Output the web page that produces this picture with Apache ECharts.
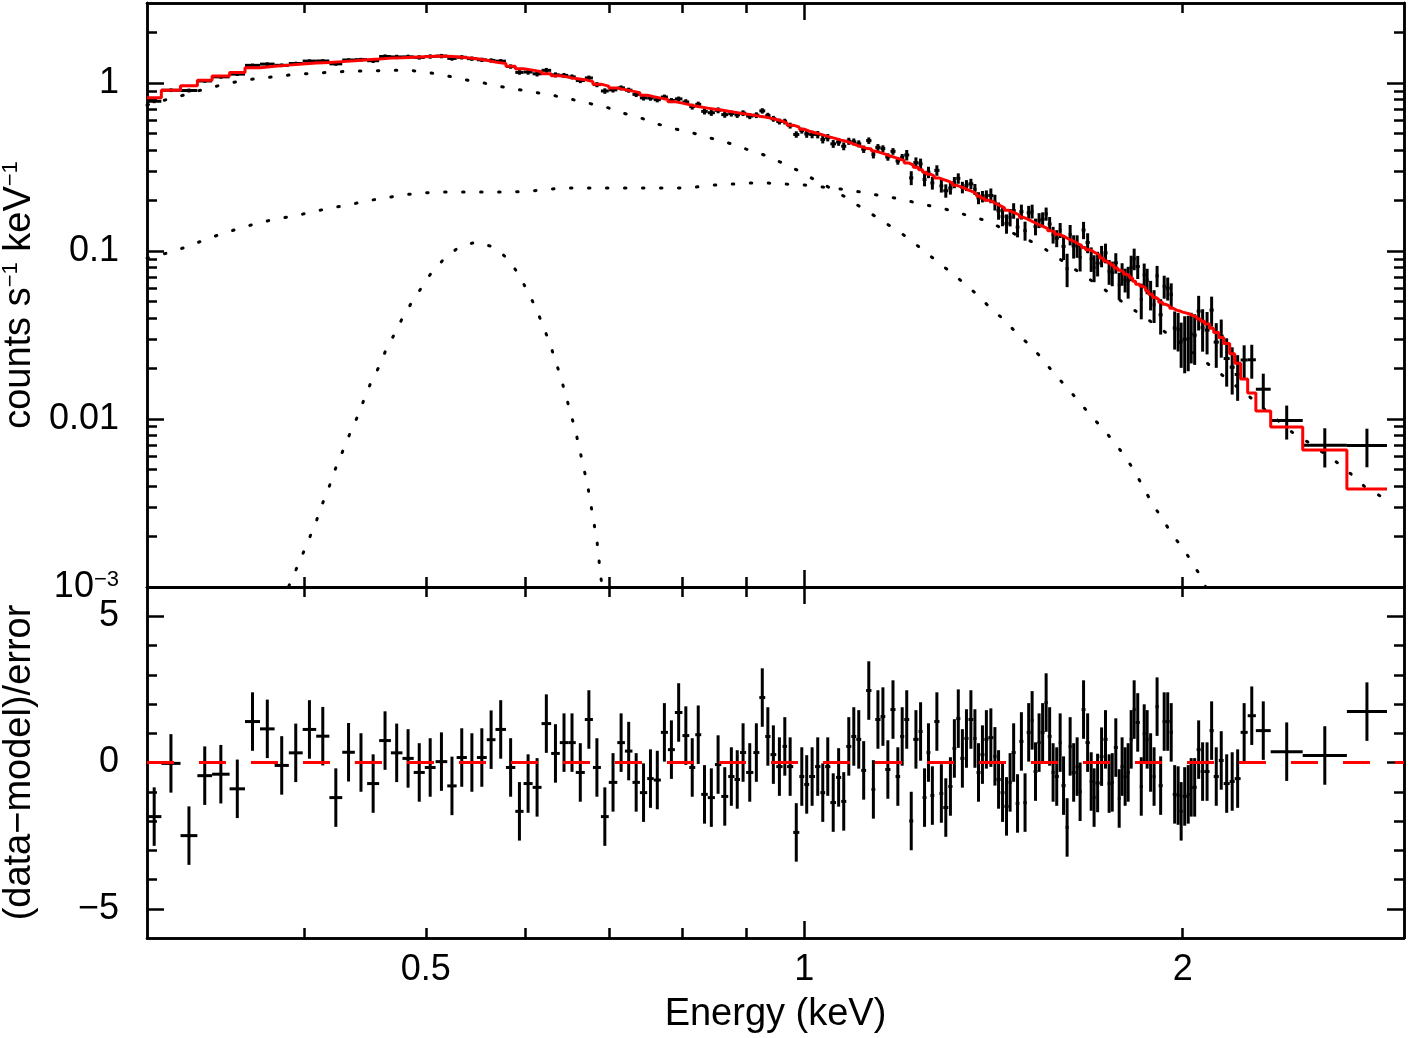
<!DOCTYPE html>
<html>
<head>
<meta charset="utf-8">
<title>Spectrum fit and residuals</title>
<script src="https://cdn.jsdelivr.net/npm/echarts@6/dist/echarts.min.js"></script>
<style>
  html, body { margin: 0; padding: 0; background: #fff; }
  #chart { width: 1409px; height: 1038px; }
</style>
</head>
<body>
<div id="chart"></div>
<script>
// spectral bins, lower/upper edges in keV (contiguous)
const binEdges = [
  0.300, 0.308, 0.319, 0.329, 0.338, 0.349, 0.359, 0.369, 0.379, 0.389,
  0.399, 0.409, 0.419, 0.429, 0.439, 0.449, 0.459, 0.469, 0.479, 0.489,
  0.499, 0.509, 0.520, 0.529, 0.539, 0.549, 0.559, 0.568, 0.579, 0.589,
  0.598, 0.608, 0.618, 0.629, 0.639, 0.649, 0.658, 0.669, 0.679, 0.689,
  0.699, 0.710, 0.720, 0.730, 0.740, 0.750, 0.759, 0.769, 0.779, 0.789,
  0.800, 0.810, 0.819, 0.828, 0.838, 0.849, 0.859, 0.870, 0.880, 0.889,
  0.899, 0.911, 0.921, 0.931, 0.940, 0.950, 0.961, 0.969, 0.980, 0.991,
  1.000, 1.009, 1.020, 1.030, 1.039, 1.049, 1.060, 1.070, 1.080, 1.090,
  1.100, 1.110, 1.120, 1.131, 1.139, 1.150, 1.160, 1.171, 1.182, 1.192,
  1.201, 1.212, 1.221, 1.233, 1.242, 1.251, 1.260, 1.269, 1.281, 1.290,
  1.302, 1.312, 1.321, 1.331, 1.341, 1.351, 1.363, 1.371, 1.381, 1.391,
  1.401, 1.414, 1.422, 1.433, 1.443, 1.454, 1.462, 1.473, 1.483, 1.494,
  1.503, 1.514, 1.522, 1.533, 1.542, 1.553, 1.562, 1.573, 1.582, 1.594,
  1.602, 1.614, 1.623, 1.632, 1.644, 1.653, 1.662, 1.674, 1.687, 1.696,
  1.705, 1.718, 1.730, 1.743, 1.753, 1.763, 1.776, 1.785, 1.795, 1.805,
  1.815, 1.825, 1.835, 1.849, 1.859, 1.869, 1.879, 1.893, 1.903, 1.914,
  1.928, 1.939, 1.953, 1.964, 1.978, 1.989, 2.000, 2.015, 2.026, 2.037,
  2.052, 2.067, 2.082, 2.101, 2.117, 2.137, 2.156, 2.180, 2.200, 2.224,
  2.253, 2.287, 2.350, 2.492, 2.702, 2.908
];

// folded model (red histogram), counts s^-1 keV^-1, one per bin
const modelRate = [
  0.818, 0.908, 0.964, 1.042, 1.101, 1.158, 1.233, 1.262, 1.280, 1.298,
  1.316, 1.325, 1.343, 1.361, 1.380, 1.390, 1.409, 1.418, 1.428, 1.438,
  1.448, 1.448, 1.438, 1.418, 1.399, 1.370, 1.334, 1.307, 1.262, 1.220,
  1.195, 1.171, 1.139, 1.108, 1.086, 1.064, 1.049, 1.021, 0.986, 0.960,
  0.934, 0.915, 0.896, 0.878, 0.848, 0.831, 0.814, 0.798, 0.776, 0.760,
  0.745, 0.730, 0.720, 0.710, 0.700, 0.691, 0.681, 0.672, 0.663, 0.654,
  0.645, 0.636, 0.628, 0.619, 0.607, 0.594, 0.578, 0.562, 0.547, 0.532,
  0.518, 0.507, 0.497, 0.487, 0.477, 0.467, 0.458, 0.451, 0.439, 0.428,
  0.419, 0.410, 0.405, 0.394, 0.386, 0.378, 0.368, 0.360, 0.353, 0.346,
  0.334, 0.325, 0.316, 0.305, 0.295, 0.287, 0.280, 0.272, 0.267, 0.261,
  0.254, 0.247, 0.242, 0.237, 0.231, 0.225, 0.219, 0.213, 0.207, 0.201,
  0.196, 0.191, 0.186, 0.181, 0.175, 0.172, 0.168, 0.164, 0.159, 0.156,
  0.152, 0.149, 0.145, 0.142, 0.139, 0.136, 0.132, 0.130, 0.126, 0.124,
  0.121, 0.118, 0.116, 0.113, 0.110, 0.108, 0.105, 0.102, 0.0999, 0.0974,
  0.0948, 0.0910, 0.0873, 0.0849, 0.0826, 0.0792, 0.0770, 0.0750, 0.0729, 0.0712,
  0.0691, 0.0662, 0.0635, 0.0617, 0.0603, 0.0578, 0.0554, 0.0530, 0.0516, 0.0496,
  0.0482, 0.0470, 0.0457, 0.0445, 0.0440, 0.0433, 0.0427, 0.0422, 0.0413, 0.0405,
  0.0394, 0.0382, 0.0368, 0.0347, 0.0328, 0.0306, 0.0282, 0.0245, 0.0215, 0.0173,
  0.0143, 0.01116, 0.00896, 0.00654, 0.00383
];

// (data-model)/error, one per bin
const residuals = [
  -1.85, -0.03, -2.5, -0.45, -0.4, -0.9, 1.4, 1.15, -0.1, 0.33,
  1.13, 0.9, -1.2, 0.35, 0.0, -0.72, 0.75, 0.33, 0.14, -0.34,
  -0.17, 0.03, -0.8, 0.17, 0.0, 0.17, 0.78, 1.13, -0.17, -1.67,
  -0.72, -0.85, 1.33, 0.31, 0.68, 0.68, -0.34, 1.47, -0.17, -1.85,
  -0.68, 0.68, 0.39, -0.68, -1.03, -0.55, -0.6, 1.03, 0.44, 1.71,
  0.92, -0.17, 0.95, -1.09, -1.2, -0.07, -1.16, -0.48, -0.58, 0.34,
  -0.34, 0.34, 2.22, 0.89, 0.27, -0.14, 0.55, -0.14, -2.39, -0.48,
  -0.75, -0.48, -0.14, -1.03, -0.14, -1.37, -0.51, -1.33, 0.55, 0.89,
  0.79, -0.27, 2.46, -0.92, 1.47, 1.57, -0.24, 1.81, -0.48, 0.89,
  1.47, -2.0, 0.79, 1.06, -1.2, 0.34, -1.13, 1.4, -1.06, -1.54,
  -0.82, 0.48, 1.5, 0.14, 0.82, 1.47, 0.82, -0.34, 0.27, 0.79,
  0.85, 0.21, -0.58, -1.03, -1.5, -0.68, 0.34, -1.4, 0.72, -1.37,
  1.03, 1.44, -0.31, 0.68, 1.03, 2.05, 0.89, -0.34, -0.48, 0.68,
  -0.79, -2.22, 0.55, -0.34, -0.14, -1.0, 1.81, 0.68, -0.65, -1.2,
  -0.7, 0.2, 0.79, -0.72, -0.68, 0.51, -1.23, -0.14, -0.48, -0.34,
  0.79, 1.81, 1.37, -0.82, 0.99, 0.79, 0.0, -0.48, 1.91, -0.79,
  1.4, 1.4, 1.03, -1.09, -1.13, -1.67, -1.16, -1.09, -0.85, -0.85,
  0.44, -0.31, -0.31, 1.09, -0.48, 0.07, -0.72, -0.65, -0.55, 1.03,
  1.6, 1.09, 0.37, 0.24, 1.74
];

// fractional 1-sigma error of the data, per energy band (band upper edge, keV)
const errBandTop  = [0.45, 0.6, 0.8, 1.0, 1.2, 1.4, 1.6, 1.8, 2.0, 2.224, 2.253, 2.287, 2.35, 2.492, 2.702, 2.91];
const errBandFrac = [0.025, 0.03, 0.035, 0.04, 0.05, 0.08, 0.11, 0.15, 0.2, 0.26, 0.29, 0.36, 0.32, 0.25, 0.28, 0.47];

// dotted model components, keV / counts s^-1 keV^-1
const softE = [0.300, 0.303, 0.3145, 0.325, 0.3352, 0.3465, 0.3581, 0.3702, 0.3826, 0.3954,
  0.4087, 0.4223, 0.4365, 0.4511, 0.4671, 0.4837, 0.500, 0.5168, 0.5341, 0.5521,
  0.5706, 0.5897, 0.6095, 0.6299, 0.6522, 0.673, 0.6955, 0.7176, 0.7417, 0.7648,
  0.7909, 0.816, 0.8433, 0.8714, 0.899, 0.9293, 0.957, 0.9872, 1.0167, 1.045,
  1.0781, 1.1081, 1.141, 1.173, 1.2058, 1.2372, 1.2716, 1.3047, 1.3385, 1.3734,
  1.4064, 1.4431, 1.4752, 1.5136, 1.5472, 1.5788, 1.6168, 1.653, 1.6898, 1.7273,
  1.7658, 1.8016, 1.835, 1.8621, 1.8928, 1.928, 1.9639, 2.0037, 2.041, 2.079, 2.09];
const softRate = [0.740, 0.760, 0.814, 0.872, 0.934, 0.986, 1.042, 1.071, 1.101, 1.131,
  1.147, 1.163, 1.179, 1.179, 1.195, 1.195, 1.163, 1.116, 1.056, 1.014,
  0.960, 0.921, 0.884, 0.848, 0.803, 0.760, 0.720, 0.663, 0.619, 0.570,
  0.532, 0.504, 0.470, 0.439, 0.405, 0.373, 0.339, 0.3034, 0.2685, 0.2406,
  0.2099, 0.1831, 0.1598, 0.1394, 0.1216, 0.1043, 0.0884, 0.0759, 0.0648, 0.0548,
  0.0458, 0.0388, 0.0325, 0.0272, 0.0228, 0.0188, 0.0155, 0.0128, 0.0105, 0.0088,
  0.00722, 0.00593, 0.00476, 0.00388, 0.00312, 0.00253, 0.00203, 0.00168, 0.00135, 0.00108, 0.00095];

const plawE = [0.300, 0.3133, 0.3238, 0.3346, 0.3452, 0.3562, 0.3674, 0.3797, 0.3925, 0.4057,
  0.4193, 0.4334, 0.4479, 0.4628, 0.4785, 0.4945, 0.5121, 0.5293, 0.548, 0.5664,
  0.5853, 0.605, 0.6264, 0.6476, 0.6693, 0.693, 0.7162, 0.7403, 0.7648, 0.7909,
  0.8188, 0.8464, 0.8746, 0.9058, 0.9361, 0.9676, 1.0018, 1.0354, 1.0703, 1.1081,
  1.1432, 1.1816, 1.2213, 1.2623, 1.3047, 1.3459, 1.3909, 1.538, 1.699, 1.880,
  2.062, 2.260, 2.443, 2.516, 2.658, 2.722, 2.793, 2.908];
const plawRate = [0.0908, 0.0986, 0.1071, 0.1179, 0.1280, 0.1371, 0.1468, 0.1550, 0.1616, 0.1707,
  0.1803, 0.1879, 0.1985, 0.2067, 0.2154, 0.2214, 0.2248, 0.2248, 0.2248, 0.2248,
  0.2248, 0.2275, 0.2339, 0.2371, 0.2371, 0.2371, 0.2371, 0.2371, 0.2371, 0.2371,
  0.2404, 0.2471, 0.2505, 0.2540, 0.2540, 0.2505, 0.2471, 0.2404, 0.2339, 0.2248,
  0.2154, 0.2067, 0.1957, 0.1853, 0.1754, 0.1638, 0.1529, 0.1085, 0.0654, 0.0388,
  0.0234, 0.0136, 0.00837, 0.00729, 0.00547, 0.00471, 0.00394, 0.0033];

const lineE = [0.389, 0.394, 0.399, 0.4042, 0.4094, 0.4139, 0.4193, 0.4239, 0.4294, 0.4349,
  0.4406, 0.4463, 0.4519, 0.4587, 0.4647, 0.4725, 0.4794, 0.4874, 0.4964, 0.5055,
  0.5177, 0.5312, 0.548, 0.5664, 0.5801, 0.5918, 0.6017, 0.6106, 0.6185, 0.6264,
  0.6334, 0.6404, 0.6463, 0.6522, 0.6583, 0.6631, 0.668, 0.673, 0.6767, 0.6805,
  0.6842, 0.6867, 0.6892, 0.6918];
const lineRate = [0.00101, 0.00126, 0.00157, 0.00198, 0.00251, 0.00316, 0.00405, 0.00511, 0.00645, 0.00814,
  0.01014, 0.01297, 0.01638, 0.02039, 0.02574, 0.0325, 0.04047, 0.0497, 0.06106, 0.075,
  0.0908, 0.1056, 0.1132, 0.1056, 0.0908, 0.074, 0.0586, 0.0471, 0.0373, 0.0291,
  0.0228, 0.01754, 0.0137, 0.01071, 0.00825, 0.00645, 0.00504, 0.00388, 0.00303, 0.00237,
  0.00185, 0.00143, 0.00112, 0.00092];

// ticks and labels
const xMajorTicks = [1];
const xMinorTicks = [0.4, 0.5, 0.6, 0.7, 0.8, 0.9, 2];
const xLabelVals = [0.5, 1, 2];
const xLabelText = ['0.5', '1', '2'];
const yTopMajor = [0.001, 0.01, 0.1, 1];
const yTopLabels = ['{b|10}{s|\u22123}', '0.01', '0.1', '1'];
const yTopMinor = [0.002, 0.003, 0.004, 0.005, 0.006, 0.007, 0.008, 0.009,
  0.02, 0.03, 0.04, 0.05, 0.06, 0.07, 0.08, 0.09,
  0.2, 0.3, 0.4, 0.5, 0.6, 0.7, 0.8, 0.9, 2];
const yResMajor = [-5, 0, 5];
const yResLabels = ['\u22125', '0', '5'];
const yResMinor = [-4, -3, -2, -1, 1, 2, 3, 4];

const lg = Math.log10;
const FONT = 'Liberation Sans';
const X_MIN = lg(0.3), X_MAX = lg(3);
const YT_MIN = -3, YT_MAX = lg(3);

function nearest(vals, v) {
  let best = 0, bd = Infinity;
  vals.forEach((t, i) => { const d = Math.abs(t - v); if (d < bd) { bd = d; best = i; } });
  return best;
}
function fracErr(e) {
  for (let i = 0; i < errBandTop.length; i++) if (e <= errBandTop[i]) return errBandFrac[i];
  return errBandFrac[errBandFrac.length - 1];
}

// one axis: ticks inside, no grid lines
function axis(grid, pos, min, max, ticks, len, extra) {
  return Object.assign({
    type: 'value', gridIndex: grid, position: pos, min: min, max: max,
    axisLine: { show: true, onZero: false, lineStyle: { color: '#000', width: 2.5 } },
    axisTick: { show: true, inside: true, length: len, customValues: ticks,
      lineStyle: { color: '#000', width: 2.5 } },
    axisLabel: { show: false },
    splitLine: { show: false }
  }, extra || {});
}

// build series data
const nBins = modelRate.length;
const crossTop = [], crossRes = [], modelStep = [];
for (let i = 0; i < nBins; i++) {
  const lo = binEdges[i], hi = binEdges[i + 1];
  const mid = Math.sqrt(lo * hi);
  const m = modelRate[i], r = residuals[i];
  const sig = m * fracErr(mid);
  const d = m + r * sig;
  crossTop.push([lg(lo), lg(hi), lg(d), lg(d - sig), lg(d + sig), lg(mid)]);
  crossRes.push([lg(lo), lg(hi), r, r - 1, r + 1, lg(mid)]);
  modelStep.push([lg(lo), lg(m)]);
}
modelStep.push([lg(binEdges[nBins]), lg(modelRate[nBins - 1])]);

function crossItem(params, api) {
  const a = api.coord([api.value(0), api.value(2)]);
  const b = api.coord([api.value(1), api.value(2)]);
  const c = api.coord([api.value(5), api.value(3)]);
  const d = api.coord([api.value(5), api.value(4)]);
  const st = { stroke: '#000', lineWidth: 3 };
  return {
    type: 'group',
    children: [
      { type: 'line', shape: { x1: a[0], y1: a[1], x2: b[0], y2: b[1] }, style: st },
      { type: 'line', shape: { x1: c[0], y1: c[1], x2: d[0], y2: d[1] }, style: st }
    ]
  };
}

function dotted(xs, ys) {
  return {
    type: 'line', xAxisIndex: 0, yAxisIndex: 0, symbol: 'none', silent: true,
    data: xs.map((e, i) => [lg(e), lg(ys[i])]),
    lineStyle: { color: '#000', width: 3, type: [1.5, 16.5], cap: 'round' },
    clip: true, z: 1
  };
}

const chart = echarts.init(document.getElementById('chart'));

const xLabelFmt = v => xLabelText[nearest(xLabelVals.map(lg), v)];
const yTopFmt = v => yTopLabels[nearest(yTopMajor.map(lg), v)];
const yResFmt = v => yResLabels[nearest(yResMajor, v)];

const tickFont = { fontSize: 36, fontFamily: FONT, color: '#000' };

chart.setOption({
  animation: false,
  backgroundColor: '#fff',
  grid: [
    { left: 147, right: 5, top: 3, height: 584, outerBoundsMode: 'none', containLabel: false },
    { left: 147, right: 5, top: 587, height: 351, outerBoundsMode: 'none', containLabel: false }
  ],
  xAxis: [
    axis(0, 'bottom', X_MIN, X_MAX, xMinorTicks.map(lg), 10),
    axis(0, 'bottom', X_MIN, X_MAX, xMajorTicks.map(lg), 17),
    axis(0, 'top', X_MIN, X_MAX, xMinorTicks.map(lg), 10),
    axis(0, 'top', X_MIN, X_MAX, xMajorTicks.map(lg), 17),
    axis(1, 'bottom', X_MIN, X_MAX, xMinorTicks.map(lg), 10),
    axis(1, 'bottom', X_MIN, X_MAX, xMajorTicks.map(lg), 17, {
      axisLabel: Object.assign({ show: true, customValues: xLabelVals.map(lg), formatter: xLabelFmt, margin: 14 }, tickFont),
      name: 'Energy (keV)', nameLocation: 'middle', nameGap: 58,
      nameTextStyle: { fontSize: 38, fontFamily: FONT, color: '#000' }
    }),
    axis(1, 'top', X_MIN, X_MAX, xMinorTicks.map(lg), 10),
    axis(1, 'top', X_MIN, X_MAX, xMajorTicks.map(lg), 17)
  ],
  yAxis: [
    axis(0, 'left', YT_MIN, YT_MAX, yTopMinor.map(lg), 10),
    axis(0, 'left', YT_MIN, YT_MAX, yTopMajor.map(lg), 17, {
      axisLabel: Object.assign({
        show: true, customValues: yTopMajor.map(lg), formatter: yTopFmt, margin: 28,
        rich: {
          b: { fontSize: 36, fontFamily: FONT, color: '#000', lineHeight: 36 },
          s: { fontSize: 22, fontFamily: FONT, color: '#000', lineHeight: 22, verticalAlign: 'top' }
        }
      }, tickFont),
      name: '{n|counts s}{s|\u22121}{n| keV}{s|\u22121}', nameLocation: 'middle', nameGap: 108, nameRotate: 90,
      nameTextStyle: {
        rich: {
          n: { fontSize: 38, fontFamily: FONT, color: '#000', lineHeight: 38 },
          s: { fontSize: 22, fontFamily: FONT, color: '#000', lineHeight: 22, verticalAlign: 'top' }
        }
      }
    }),
    axis(0, 'right', YT_MIN, YT_MAX, yTopMinor.map(lg), 10),
    axis(0, 'right', YT_MIN, YT_MAX, yTopMajor.map(lg), 17),
    axis(1, 'left', -6, 6, yResMinor, 10),
    axis(1, 'left', -6, 6, yResMajor, 17, {
      axisLabel: Object.assign({ show: true, customValues: yResMajor, formatter: yResFmt, margin: 28 }, tickFont),
      name: '(data\u2212model)/error', nameLocation: 'middle', nameGap: 108, nameRotate: 90,
      nameTextStyle: { fontSize: 38, fontFamily: FONT, color: '#000', lineHeight: 38 }
    }),
    axis(1, 'right', -6, 6, yResMinor, 10),
    axis(1, 'right', -6, 6, yResMajor, 17)
  ],
  series: [
    dotted(softE, softRate),
    dotted(plawE, plawRate),
    dotted(lineE, lineRate),
    {
      type: 'custom', xAxisIndex: 0, yAxisIndex: 0, renderItem: crossItem,
      data: crossTop, encode: { x: [0, 1, 5], y: [2, 3, 4] }, clip: true, silent: true, z: 2
    },
    {
      type: 'line', xAxisIndex: 0, yAxisIndex: 0, data: modelStep, step: 'end',
      symbol: 'none', silent: true, clip: true, z: 3,
      lineStyle: { color: '#ff0000', width: 3 }
    },
    {
      type: 'custom', xAxisIndex: 4, yAxisIndex: 4, renderItem: crossItem,
      data: crossRes, encode: { x: [0, 1, 5], y: [2, 3, 4] }, clip: true, silent: true, z: 2
    },
    {
      type: 'line', xAxisIndex: 4, yAxisIndex: 4, data: [[X_MIN, 0], [X_MAX, 0]],
      symbol: 'none', silent: true, z: 3,
      lineStyle: { color: '#ff0000', width: 3, type: [27, 25] }
    }
  ]
});
</script>
</body>
</html>
